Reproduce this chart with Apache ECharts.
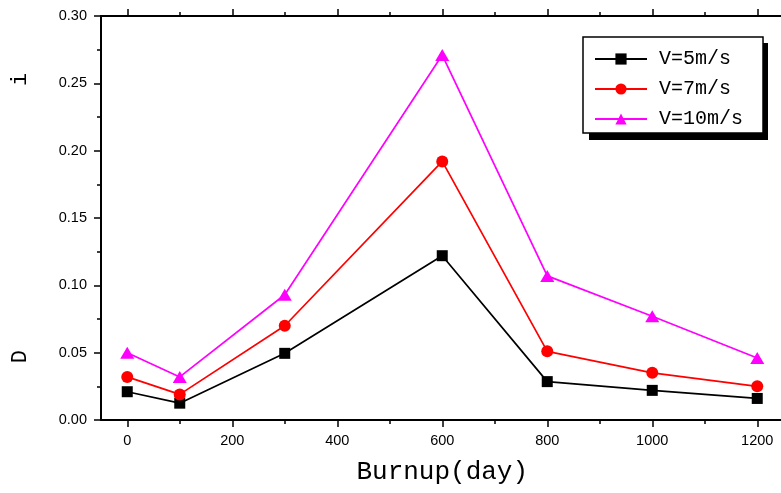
<!DOCTYPE html>
<html>
<head>
<meta charset="utf-8">
<script src="https://cdn.jsdelivr.net/npm/echarts@6/dist/echarts.min.js"></script>
<style>
  html, body { margin: 0; padding: 0; background: #fff; }
  #chart { width: 781px; height: 493px; }
</style>
</head>
<body>
<div id="chart"></div>
<script>
// burnup days
const burnup = [0, 100, 300, 600, 800, 1000, 1200];
// series values
const v5 = [0.021, 0.0125, 0.0495, 0.122, 0.0285, 0.022, 0.016];
const v7 = [0.032, 0.019, 0.070, 0.192, 0.051, 0.035, 0.025];
const v10 = [0.050, 0.032, 0.093, 0.271, 0.107, 0.077, 0.046];
const seriesNames = ['V=5m/s', 'V=7m/s', 'V=10m/s'];
const yTickLabels = ['0.00', '0.05', '0.10', '0.15', '0.20', '0.25', '0.30'];

const monoFont = '"Liberation Mono", "DejaVu Sans Mono", monospace';
const sansFont = '"Liberation Sans", Arial, sans-serif';

const myChart = echarts.init(document.getElementById('chart'));

function pairs(vals) {
  return burnup.map((x, i) => [x, vals[i]]);
}

// frame grid covers -50..1250, data grid covers 0..1200
const frameAxis = {
  type: 'value',
  min: -50,
  max: 1250,
  axisLine: { show: true, onZero: false, lineStyle: { color: '#000', width: 2 } },
  axisTick: { show: false },
  axisLabel: { show: false },
  splitLine: { show: false }
};

const dataX = {
  type: 'value',
  min: 0,
  max: 1200,
  interval: 200,
  axisLine: { show: false, onZero: false },
  axisTick: { show: true, inside: false, length: 7, lineStyle: { color: '#000', width: 1.5 } },
  minorTick: { show: true, splitNumber: 2, length: 4, lineStyle: { color: '#000', width: 1.5 } },
  splitLine: { show: false },
  minorSplitLine: { show: false }
};

const option = {
  animation: false,
  backgroundColor: '#fff',
  grid: [
    { left: 101, top: 16, width: 683, height: 404 },
    { left: 127.25, top: 16, width: 630, height: 404 }
  ],
  graphic: [
    {
      // legend drop shadow
      type: 'rect',
      z: 1,
      shape: { x: 589, y: 43, width: 179, height: 97 },
      style: { fill: '#000' }
    }
  ],
  xAxis: [
    Object.assign({ gridIndex: 0, position: 'bottom' }, frameAxis),
    Object.assign({ gridIndex: 0, position: 'top' }, frameAxis),
    Object.assign({
      gridIndex: 1,
      position: 'bottom',
      name: 'Burnup(day)',
      nameLocation: 'middle',
      nameGap: 39,
      nameTextStyle: { fontFamily: monoFont, fontSize: 26, color: '#000' },
      axisLabel: {
        show: true,
        margin: 13,
        fontFamily: sansFont,
        fontSize: 14.5,
        color: '#000',
        formatter: (v) => String(v)
      }
    }, dataX),
    Object.assign({
      gridIndex: 1,
      position: 'top',
      axisLabel: { show: false }
    }, dataX)
  ],
  yAxis: [
    {
      gridIndex: 0,
      type: 'value',
      min: 0,
      max: 0.3,
      interval: 0.05,
      name: 'D                    i',
      nameLocation: 'middle',
      nameGap: 70,
      nameTextStyle: { fontFamily: monoFont, fontSize: 22, color: '#000' },
      axisLine: { show: true, onZero: false, lineStyle: { color: '#000', width: 2 } },
      axisTick: { show: true, inside: false, length: 7, lineStyle: { color: '#000', width: 1.5 } },
      minorTick: { show: true, splitNumber: 2, length: 4, lineStyle: { color: '#000', width: 1.5 } },
      axisLabel: {
        margin: 14,
        fontFamily: sansFont,
        fontSize: 14.5,
        color: '#000',
        formatter: (v) => yTickLabels[Math.round(v / 0.05)]
      },
      splitLine: { show: false }
    },
    {
      gridIndex: 1,
      type: 'value',
      min: 0,
      max: 0.3,
      show: false
    }
  ],
  legend: {
    orient: 'vertical',
    left: 583,
    top: 37,
    padding: [12, 20, 4, 11],
    itemGap: 10,
    itemWidth: 52,
    itemHeight: 14,
    backgroundColor: '#fff',
    borderColor: '#000',
    borderWidth: 1.5,
    borderRadius: 0,
    z: 5,
    textStyle: { fontFamily: monoFont, fontSize: 20, color: '#000', padding: [0, 0, 0, 7] },
    data: seriesNames
  },
  series: [
    {
      name: seriesNames[0],
      type: 'line',
      xAxisIndex: 2,
      yAxisIndex: 1,
      data: pairs(v5),
      symbol: 'rect',
      symbolSize: 11,
      color: '#000000',
      lineStyle: { width: 1.7, color: '#000000' },
      itemStyle: { color: '#000000' }
    },
    {
      name: seriesNames[1],
      type: 'line',
      xAxisIndex: 2,
      yAxisIndex: 1,
      data: pairs(v7),
      symbol: 'circle',
      symbolSize: 12,
      color: '#ff0000',
      lineStyle: { width: 1.7, color: '#ff0000' },
      itemStyle: { color: '#ff0000' }
    },
    {
      name: seriesNames[2],
      type: 'line',
      xAxisIndex: 2,
      yAxisIndex: 1,
      data: pairs(v10),
      symbol: 'triangle',
      symbolSize: [14, 12],
      color: '#ff00ff',
      lineStyle: { width: 1.7, color: '#ff00ff' },
      itemStyle: { color: '#ff00ff' }
    }
  ]
};

option && myChart.setOption(option);
</script>
</body>
</html>
